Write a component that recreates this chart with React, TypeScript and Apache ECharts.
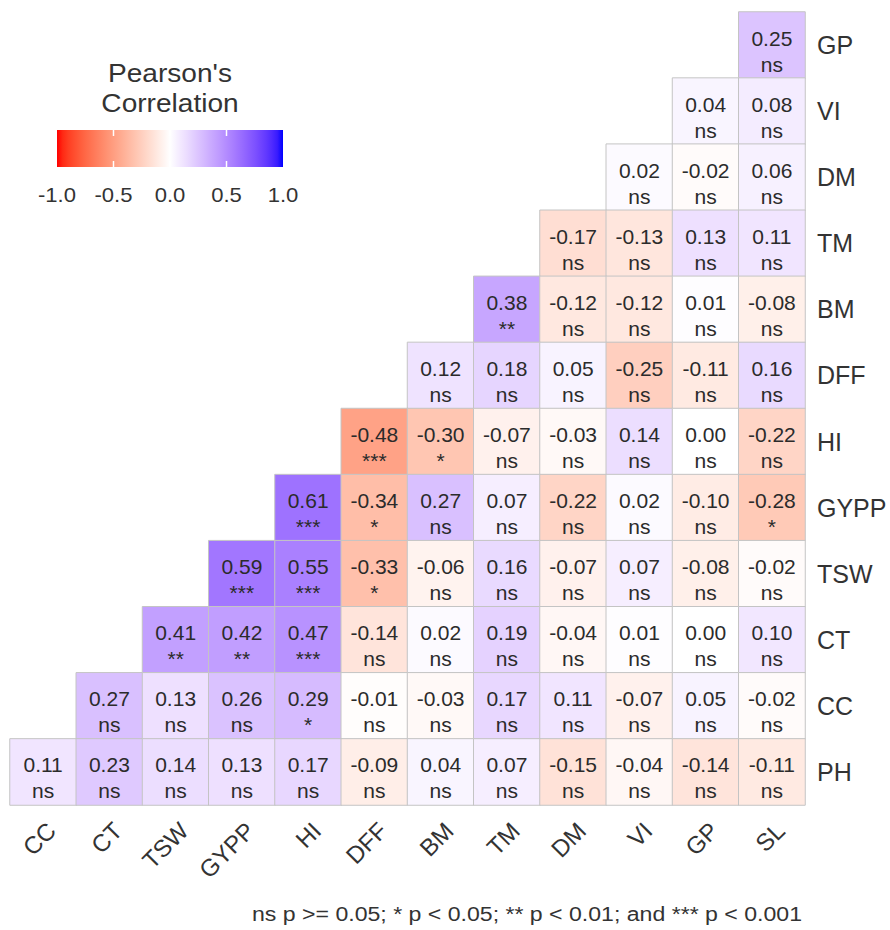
import React, { useEffect, useRef } from "react";
import * as echarts from "echarts";

// Column (x) variables, left to right
const xCats = ["CC", "CT", "TSW", "GYPP", "HI", "DFF", "BM", "TM", "DM", "VI", "GP", "SL"];
// Row (y) variables, top to bottom
const yCats = ["GP", "VI", "DM", "TM", "BM", "DFF", "HI", "GYPP", "TSW", "CT", "CC", "PH"];

// Correlations per row (row i starts at column 11 - i and runs to SL)
const rGP = [0.25];
const sGP = ["ns"];
const rVI = [0.04, 0.08];
const sVI = ["ns", "ns"];
const rDM = [0.02, -0.02, 0.06];
const sDM = ["ns", "ns", "ns"];
const rTM = [-0.17, -0.13, 0.13, 0.11];
const sTM = ["ns", "ns", "ns", "ns"];
const rBM = [0.38, -0.12, -0.12, 0.01, -0.08];
const sBM = ["**", "ns", "ns", "ns", "ns"];
const rDFF = [0.12, 0.18, 0.05, -0.25, -0.11, 0.16];
const sDFF = ["ns", "ns", "ns", "ns", "ns", "ns"];
const rHI = [-0.48, -0.3, -0.07, -0.03, 0.14, 0.0, -0.22];
const sHI = ["***", "*", "ns", "ns", "ns", "ns", "ns"];
const rGYPP = [0.61, -0.34, 0.27, 0.07, -0.22, 0.02, -0.1, -0.28];
const sGYPP = ["***", "*", "ns", "ns", "ns", "ns", "ns", "*"];
const rTSW = [0.59, 0.55, -0.33, -0.06, 0.16, -0.07, 0.07, -0.08, -0.02];
const sTSW = ["***", "***", "*", "ns", "ns", "ns", "ns", "ns", "ns"];
const rCT = [0.41, 0.42, 0.47, -0.14, 0.02, 0.19, -0.04, 0.01, 0.0, 0.1];
const sCT = ["**", "**", "***", "ns", "ns", "ns", "ns", "ns", "ns", "ns"];
const rCC = [0.27, 0.13, 0.26, 0.29, -0.01, -0.03, 0.17, 0.11, -0.07, 0.05, -0.02];
const sCC = ["ns", "ns", "ns", "*", "ns", "ns", "ns", "ns", "ns", "ns", "ns"];
const rPH = [0.11, 0.23, 0.14, 0.13, 0.17, -0.09, 0.04, 0.07, -0.15, -0.04, -0.14, -0.11];
const sPH = ["ns", "ns", "ns", "ns", "ns", "ns", "ns", "ns", "ns", "ns", "ns", "ns"];

const rowValues = [rGP, rVI, rDM, rTM, rBM, rDFF, rHI, rGYPP, rTSW, rCT, rCC, rPH];
const rowSig = [sGP, sVI, sDM, sTM, sBM, sDFF, sHI, sGYPP, sTSW, sCT, sCC, sPH];

const legendTicks = [-1.0, -0.5, 0.0, 0.5, 1.0];
const legendTitle = ["Pearson's", "Correlation"];
const caption = "ns p >= 0.05; * p < 0.05; ** p < 0.01; and *** p < 0.001";

const FONT = "'Liberation Sans', Arial, Helvetica, sans-serif";
const TEXT = "#2b2b2b";

// --- Lab colour interpolation (like R's scales gradient2) ---
function hexToRgb(h: string) {
  const n = parseInt(h.slice(1), 16);
  return [(n >> 16) & 255, (n >> 8) & 255, n & 255];
}
function srgbToLin(c: number) {
  c /= 255;
  return c <= 0.04045 ? c / 12.92 : Math.pow((c + 0.055) / 1.055, 2.4);
}
function linToSrgb(c: number) {
  const v = c <= 0.0031308 ? 12.92 * c : 1.055 * Math.pow(c, 1 / 2.4) - 0.055;
  return Math.max(0, Math.min(255, Math.round(v * 255)));
}
const WX = 0.95047, WY = 1.0, WZ = 1.08883;
function rgbToLab(rgb: number[]) {
  const [r, g, b] = rgb.map(srgbToLin);
  const X = 0.4124 * r + 0.3576 * g + 0.1805 * b;
  const Y = 0.2126 * r + 0.7152 * g + 0.0722 * b;
  const Z = 0.0193 * r + 0.1192 * g + 0.9505 * b;
  const f = (t: number) => (t > 0.008856 ? Math.cbrt(t) : 7.787 * t + 16 / 116);
  const fx = f(X / WX), fy = f(Y / WY), fz = f(Z / WZ);
  return [116 * fy - 16, 500 * (fx - fy), 200 * (fy - fz)];
}
function labToHex(lab: number[]) {
  const [L, a, bb] = lab;
  const fy = (L + 16) / 116, fx = fy + a / 500, fz = fy - bb / 200;
  const finv = (t: number) => (t * t * t > 0.008856 ? t * t * t : (t - 16 / 116) / 7.787);
  const X = WX * finv(fx), Y = WY * finv(fy), Z = WZ * finv(fz);
  const r = 3.2406 * X - 1.5372 * Y - 0.4986 * Z;
  const g = -0.9689 * X + 1.8758 * Y + 0.0415 * Z;
  const b = 0.0557 * X - 0.204 * Y + 1.057 * Z;
  const hex = (v: number) => linToSrgb(Math.max(0, v)).toString(16).padStart(2, "0");
  return "#" + hex(r) + hex(g) + hex(b);
}
const LOW = rgbToLab(hexToRgb("#FF0000"));
const MID = rgbToLab(hexToRgb("#FFFFFF"));
const HIGH = rgbToLab(hexToRgb("#0000FF"));
function colorAt(v: number) {
  const t = Math.abs(v);
  const end = v < 0 ? LOW : HIGH;
  return labToHex([0, 1, 2].map((k) => MID[k] + (end[k] - MID[k]) * t));
}
const NSTOPS = 41;
const rampColors: string[] = [];
for (let i = 0; i < NSTOPS; i++) rampColors.push(colorAt(-1 + (2 * i) / (NSTOPS - 1)));

export default function App() {
  const ref = useRef<HTMLDivElement>(null);

  useEffect(() => {
    if (!ref.current) return;
    const chart = echarts.init(ref.current, undefined, { renderer: "svg" });

    const data: any[] = [];
    rowValues.forEach((vals, i) => {
      const start = xCats.length - vals.length;
      vals.forEach((v, j) => {
        data.push([start + j, i, v, rowSig[i][j]]);
      });
    });

    // legend geometry
    const barX = 57, barY = 130, barW = 226, barH = 37;
    const tickX = (v: number) => barX + ((v + 1) / 2) * barW;

    const graphics: any[] = [];
    legendTitle.forEach((t, k) => {
      graphics.push({
        type: "text",
        x: 170,
        y: 73 + k * 30,
        scaleX: 1.08,
        style: {
          text: t,
          fill: "#333",
          font: `26px ${FONT}`,
          textAlign: "center",
          textVerticalAlign: "middle",
        },
      });
    });
    graphics.push({
      type: "rect",
      shape: { x: barX, y: barY, width: barW, height: barH },
      style: {
        fill: new echarts.graphic.LinearGradient(
          0, 0, 1, 0,
          rampColors.map((c, i) => ({ offset: i / (NSTOPS - 1), color: c }))
        ),
      },
    });
    legendTicks.forEach((v) => {
      if (v > -1 && v < 1) {
        const x = tickX(v);
        graphics.push({
          type: "line",
          shape: { x1: x, y1: barY, x2: x, y2: barY + 6 },
          style: { stroke: "#fff", lineWidth: 1.5 },
        });
        graphics.push({
          type: "line",
          shape: { x1: x, y1: barY + barH - 6, x2: x, y2: barY + barH },
          style: { stroke: "#fff", lineWidth: 1.5 },
        });
      }
      graphics.push({
        type: "text",
        x: tickX(v),
        y: 195,
        scaleX: 1.05,
        style: {
          text: v.toFixed(1),
          fill: "#333",
          font: `21px ${FONT}`,
          textAlign: "center",
          textVerticalAlign: "middle",
        },
      });
    });
    graphics.push({
      type: "text",
      x: 802,
      y: 914,
      scaleX: 1.1,
      style: {
        text: caption,
        fill: "#333",
        font: `21px ${FONT}`,
        textAlign: "right",
        textVerticalAlign: "middle",
      },
    });

    chart.setOption({
      animation: false,
      backgroundColor: "#fff",
      grid: { left: 10, right: 85, top: 12, bottom: 125, containLabel: false },
      xAxis: {
        type: "category",
        data: xCats,
        axisLine: { show: false },
        axisTick: { show: false },
        splitLine: { show: false },
        axisLabel: {
          interval: 0,
          rotate: 45,
          align: "right",
          verticalAlign: "top",
          margin: 13,
          fontSize: 24,
          fontFamily: FONT,
          color: "#333",
        },
      },
      yAxis: {
        type: "category",
        data: yCats,
        inverse: true,
        position: "right",
        axisLine: { show: false },
        axisTick: { show: false },
        splitLine: { show: false },
        axisLabel: {
          interval: 0,
          margin: 12,
          fontSize: 25,
          fontFamily: FONT,
          color: "#333",
        },
      },
      visualMap: {
        show: false,
        type: "continuous",
        min: -1,
        max: 1,
        dimension: 2,
        seriesIndex: 0,
        inRange: { color: rampColors },
      },
      series: [
        {
          type: "heatmap",
          data,
          itemStyle: { borderColor: "#c4c4c4", borderWidth: 1 },
          label: {
            show: true,
            formatter: (p: any) => `${(p.value[2] as number).toFixed(2)}\n${p.value[3]}`,
            fontSize: 21,
            lineHeight: 26,
            fontFamily: FONT,
            color: TEXT,
            offset: [0, 6],
          },
          emphasis: { disabled: true },
        },
      ],
      graphic: graphics,
    });

    return () => chart.dispose();
  }, []);

  return (
    <div
      ref={ref}
      style={{ position: "absolute", left: 0, top: 0, width: 890, height: 930, background: "#fff" }}
    />
  );
}
